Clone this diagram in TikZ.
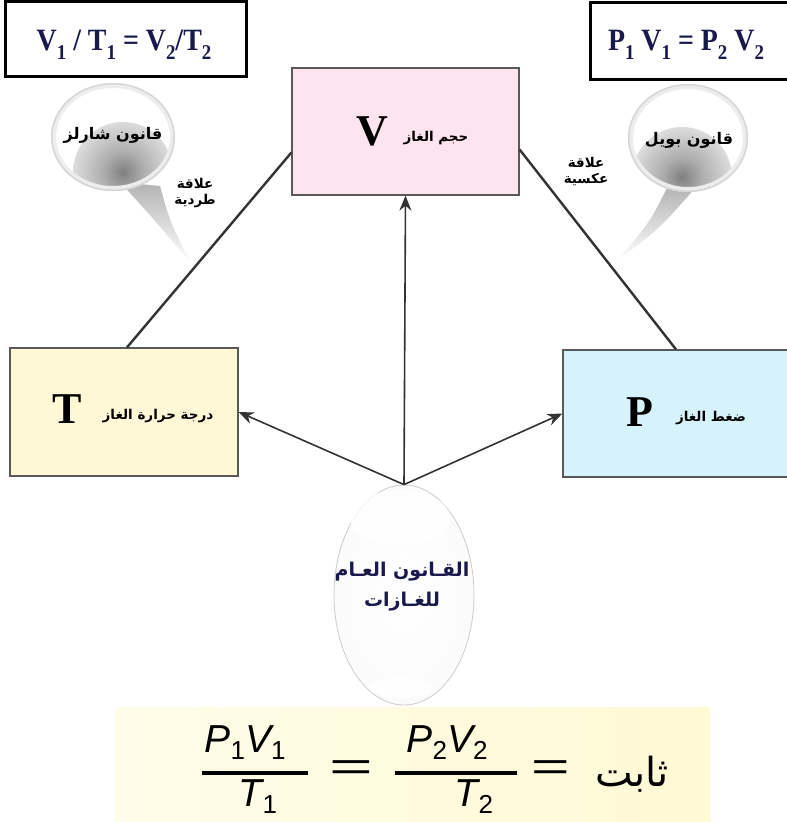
\documentclass[tikz,border=0pt]{standalone}
\usepackage{fontspec}
\setmainfont{Liberation Serif}
\newfontfamily\arabicfont[Script=Arabic]{DejaVu Sans}
\newfontfamily\formsans{Liberation Sans}
\TeXXeTstate=1
\usetikzlibrary{shapes.geometric,arrows.meta,calc}
\definecolor{navy}{RGB}{25,25,75}
\definecolor{pinkfill}{RGB}{253,228,238}
\definecolor{yelfill}{RGB}{255,248,214}
\definecolor{cyanfill}{RGB}{214,243,252}
\definecolor{bandyel}{RGB}{255,249,212}
\pgfdeclareradialshading{glassball}{\pgfpoint{0bp}{0bp}}{color(0bp)=(white); color(30bp)=(white!96!gray); color(42bp)=(white!82!gray); color(50bp)=(white!58!gray)}
\pgfdeclareradialshading{bubblespot}{\pgfpoint{0bp}{0bp}}{color(0bp)=(black!50); color(10bp)=(black!32); color(36bp)=(white); color(50bp)=(white)}
\newcommand\lowsub[1]{\raisebox{-0.28em}{\fontsize{21}{21}\selectfont #1}}
\newcommand\lowsubB[1]{\raisebox{-0.2em}{\fontsize{26}{26}\selectfont #1}}
\tikzset{
  frm/.style={draw=black, line width=3pt, fill=white, inner sep=0pt},
  frmtext/.style={font=\bfseries\fontsize{31}{31}\selectfont, text=navy},
  gasbox/.style={draw=black!65, line width=1.2pt, inner sep=0pt},
  link/.style={draw=black!80, line width=2.4pt},
  arr/.style={draw=black!80, line width=1.6pt, -{Stealth[length=15pt,width=12pt]}},
  bigsym/.style={font=\bfseries\fontsize{44}{44}\selectfont, text=black},
  arsmall/.style={font=\arabicfont\bfseries\fontsize{13.5}{17}\selectfont, text=black},
  arbubble/.style={font=\arabicfont\bfseries\fontsize{16}{16}\selectfont, text=black},
  arlaw/.style={font=\arabicfont\bfseries\fontsize{19}{30}\selectfont, text=navy, align=center},
  formtxt/.style={font=\formsans\fontsize{39}{39}\selectfont, anchor=base},
  eqsign/.style={font=\formsans\fontsize{30}{30}\selectfont},
}
\begin{document}
\begin{tikzpicture}[x=1pt,y=-1pt]
\useasboundingbox (0,0) rectangle (787,822);
\fill[white] (0,0) rectangle (787,822);

% top formula boxes
\node[frm, minimum width=241pt, minimum height=75pt] (charlesbox) at (126,39) {};
\node[frmtext] (charlesf) at (124,45) {\scalebox{0.9}[1]{V\lowsub{1} / T\lowsub{1} = V\lowsub{2}/T\lowsub{2}}};
\node[frm, minimum width=212pt, minimum height=77pt] (boylebox) at (696.5,40.5) {};
\node[frmtext] (boylef) at (686,45) {\scalebox{0.9}[1]{P\lowsub{1} V\lowsub{1} = P\lowsub{2} V\lowsub{2}}};

% bubbles: tails
\shade[top color=black!30, bottom color=white] (120,182) .. controls (150,215) .. (191,263) .. controls (170,222) .. (160,186) -- cycle;
\shade[top color=black!30, bottom color=white] (668,186) .. controls (650,222) .. (617,261) .. controls (660,228) .. (697,186) -- cycle;
% left bubble
\begin{scope}
  \clip (113,137) ellipse (62 and 54);
  \fill[white] (113,137) ellipse (62 and 54);
  \shade[shading=bubblespot] (123,172) circle (50);
  \draw[black!7, line width=10pt] (113,137) ellipse (62 and 54);
  \draw[black!16, line width=3pt] (113,137) ellipse (62 and 54);
\end{scope}
% right bubble
\begin{scope}
  \clip (688,138) ellipse (60 and 54);
  \fill[white] (688,138) ellipse (60 and 54);
  \shade[shading=bubblespot] (682,177) circle (50);
  \draw[black!7, line width=10pt] (688,138) ellipse (60 and 54);
  \draw[black!16, line width=3pt] (688,138) ellipse (60 and 54);
\end{scope}
\node[arbubble] (charles) at (113,135) {\beginR قانون شارلز\endR};
\node[arbubble] (boyle) at (689,140) {\beginR قانون بويل\endR};

% gas boxes
\node[gasbox, fill=pinkfill, minimum width=227pt, minimum height=127pt] (V) at (405.5,131.5) {};
\node[bigsym] (Vsym) at (372,131) {V};
\node[arsmall] (Vlab) at (436,138) {\beginR حجم الغاز\endR};

\node[gasbox, fill=yelfill, minimum width=228pt, minimum height=128pt] (T) at (124,412) {};
\node[bigsym] (Tsym) at (67,409) {T};
\node[arsmall] (Tlab) at (158,416) {\beginR درجة حرارة الغاز\endR};

\node[gasbox, fill=cyanfill, minimum width=230pt, minimum height=127pt] (P) at (678,413.5) {};
\node[bigsym] (Psym) at (640,412) {P};
\node[arsmall] (Plab) at (711,418) {\beginR ضغط الغاز\endR};

% relation lines
\draw[link] ([yshift=-21pt]V.west) -- ([xshift=3pt]T.north);
\draw[link] ([yshift=-18pt]V.east) -- ([xshift=-2pt]P.north);
\node[arsmall, align=center] (direct) at (195,193) {\beginR علاقة\endR\\[-1pt]\beginR طردية\endR};
\node[arsmall, align=center] (inverse) at (586,171) {\beginR علاقة\endR\\[-1pt]\beginR عكسية\endR};

% general law
\node[ellipse, minimum width=140pt, minimum height=220pt, shading=glassball, draw=black!20, line width=0.8pt] (law) at (404,595) {};
\fill[white, opacity=0.8] (400,518) ellipse (50 and 28);
\fill[white, opacity=0.8] (401,688) ellipse (32 and 10);
\node[arlaw] (lawtext) at (402,587) {\beginR القـانون العـام\endR\\\beginR للغـازات\endR};

\draw[arr] (law.north) -- (V.south);
\draw[arr] (law.north) -- (T.east);
\draw[arr] (law.north) -- (P.west);

% bottom formula band
\shade[left color=white!50!bandyel, right color=bandyel] (115,707) rectangle (710,822);
\node[formtxt] (num1) at (245,752) {\itshape P\upshape\lowsubB{1}\itshape V\upshape\lowsubB{1}};
\draw[line width=3.5pt] (202,773) -- (308,773);
\node[formtxt] (den1) at (258,806) {\itshape T\upshape\lowsubB{1}};
\node[eqsign] (eq1) at (351,771) {\scalebox{2.5}[1.35]{=}};
\node[formtxt] (num2) at (447,752) {\itshape P\upshape\lowsubB{2}\itshape V\upshape\lowsubB{2}};
\draw[line width=3.5pt] (395,773) -- (517,773);
\node[formtxt] (den2) at (474,806) {\itshape T\upshape\lowsubB{2}};
\node[eqsign] (eq2) at (551,771) {\scalebox{2.2}[1.35]{=}};
\node[font=\arabicfont\fontsize{40}{40}\selectfont, anchor=base] (thabit) at (632,786) {\beginR ثابت\endR};
\end{tikzpicture}
\end{document}
